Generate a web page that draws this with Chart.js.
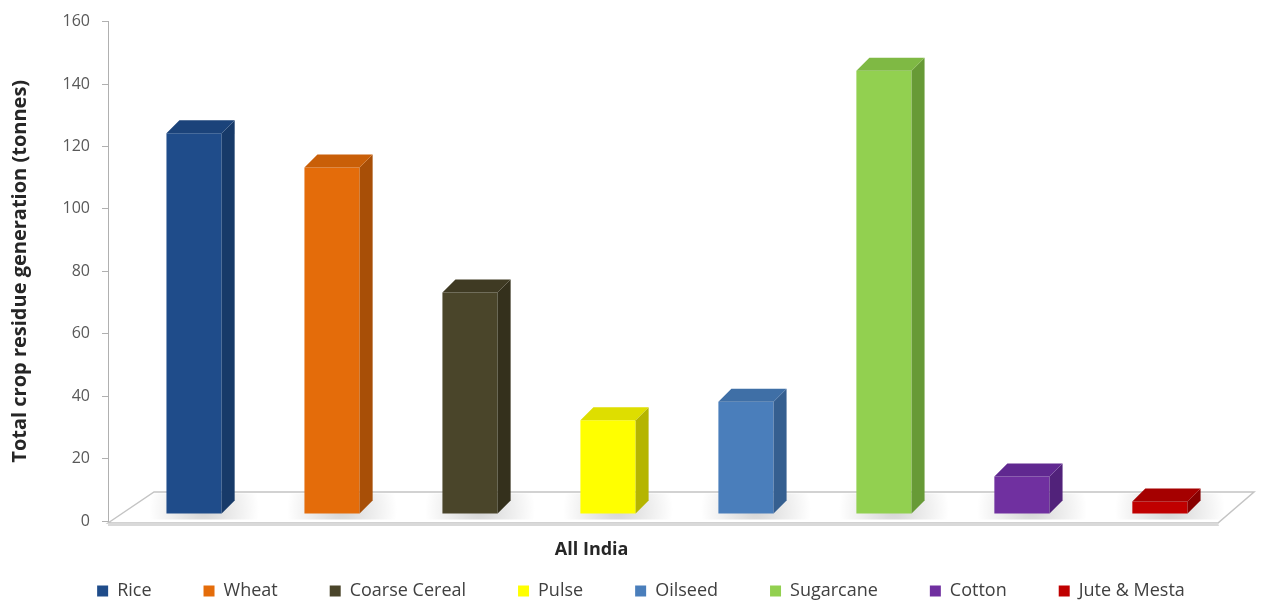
<!DOCTYPE html>
<html>
<head>
<meta charset="utf-8">
<script src="https://cdn.jsdelivr.net/npm/chart.js@4/dist/chart.umd.min.js"></script>
<style>
  html, body { margin: 0; padding: 0; background: #fff; }
  #wrap { width: 1264px; height: 603px; position: relative; }
</style>
</head>
<body>
<div id="wrap"><canvas id="myChart"></canvas></div>
<script>
// data
const categories = ['All India'];
const crops = ['Rice', 'Wheat', 'Coarse Cereal', 'Pulse', 'Oilseed', 'Sugarcane', 'Cotton', 'Jute & Mesta'];
const residue = [122, 111, 71, 30, 36, 142, 12, 4];
const yTicks = [0, 20, 40, 60, 80, 100, 120, 140, 160];

const frontColors = ['#1f4c8a', '#e46c0a', '#4a452a', '#ffff00', '#4a7ebb', '#92d050', '#7030a0', '#c00000'];
const sideColors  = ['#173a69', '#a84f07', '#34301c', '#b5b500', '#355f90', '#679a36', '#51227a', '#870000'];
const topColors   = ['#1b437a', '#c95f08', '#3f3a23', '#dede00', '#3f6fa6', '#7fb944', '#602890', '#a50000'];

const DEPTH = 13;     // bar depth in px
const LIFT = 7;       // bars stand a bit back on the floor

// fake 3d floor + bar sides
const threeD = {
  id: 'threeD',
  beforeDatasetsDraw(chart) {
    const { ctx, chartArea: a } = chart;
    const fl = a.left, fr = a.right - 28, fb = a.bottom + 2;
    const dx = 46, dy = 31;
    ctx.save();
    ctx.fillStyle = '#ffffff';
    ctx.strokeStyle = '#c4c4c4';
    ctx.lineWidth = 1.5;
    ctx.beginPath();
    ctx.moveTo(fl, fb);
    ctx.lineTo(fl + dx, fb - dy);
    ctx.lineTo(fr + dx - 10, fb - dy);
    ctx.lineTo(fr, fb);
    ctx.closePath();
    ctx.fill();
    ctx.stroke();
    // floor front edge thickness
    ctx.fillStyle = '#d9d9d9';
    ctx.beginPath();
    ctx.moveTo(fl, fb);
    ctx.lineTo(fr, fb);
    ctx.lineTo(fr + 1, fb + 3);
    ctx.lineTo(fl, fb + 3);
    ctx.closePath();
    ctx.fill();
    // soft shadows behind bars
    chart.data.datasets.forEach((ds, i) => {
      const bar = chart.getDatasetMeta(i).data[0];
      const g = ctx.createRadialGradient(bar.x + 10, bar.base - LIFT - 4, 2, bar.x + 10, bar.base - LIFT - 4, bar.width);
      g.addColorStop(0, 'rgba(0,0,0,0.16)');
      g.addColorStop(1, 'rgba(0,0,0,0)');
      ctx.fillStyle = g;
      ctx.fillRect(bar.x - bar.width, bar.base - LIFT - 20, bar.width * 2.2, 26);
    });
    ctx.restore();
    ctx.save();
    ctx.translate(0, -LIFT);
  },
  afterDatasetsDraw(chart) {
    const { ctx } = chart;
    chart.data.datasets.forEach((ds, i) => {
      const bar = chart.getDatasetMeta(i).data[0];
      const l = bar.x - bar.width / 2, r = bar.x + bar.width / 2;
      const t = bar.y, b = bar.base;
      ctx.fillStyle = sideColors[i];
      ctx.beginPath();
      ctx.moveTo(r, t);
      ctx.lineTo(r + DEPTH, t - DEPTH);
      ctx.lineTo(r + DEPTH, b - DEPTH);
      ctx.lineTo(r, b);
      ctx.closePath();
      ctx.fill();
      ctx.fillStyle = topColors[i];
      ctx.beginPath();
      ctx.moveTo(l, t);
      ctx.lineTo(l + DEPTH, t - DEPTH);
      ctx.lineTo(r + DEPTH, t - DEPTH);
      ctx.lineTo(r, t);
      ctx.closePath();
      ctx.fill();
    });
    ctx.restore();
  },
  // category title sits left of centre in the original
  afterDraw(chart) {
    const { ctx, chartArea: a } = chart;
    ctx.save();
    ctx.font = 'bold 18px "Open Sans"';
    ctx.fillStyle = '#262626';
    ctx.textAlign = 'center';
    ctx.textBaseline = 'middle';
    ctx.fillText(categories[0], a.left + (a.right - a.left) * 0.425, a.bottom + 29);
    ctx.restore();
  }
};

const datasets = crops.map((name, i) => ({
  label: name,
  data: [residue[i]],
  backgroundColor: frontColors[i],
  borderWidth: 0
}));

new Chart(document.getElementById('myChart'), {
  type: 'bar',
  data: { labels: categories, datasets: datasets },
  options: {
    responsive: true,
    maintainAspectRatio: false,
    animation: false,
    categoryPercentage: 0.97,
    barPercentage: 0.4,
    layout: { padding: { top: -2, right: 18, bottom: -7, left: 36 } },
    plugins: {
      tooltip: { enabled: false },
      legend: {
        position: 'bottom',
        labels: {
          font: { family: 'Open Sans', size: 18 },
          color: '#404040',
          boxWidth: 11,
          boxHeight: 11,
          padding: 52
        }
      }
    },
    scales: {
      x: {
        grid: { display: false },
        border: { display: false },
        ticks: { display: false },
        afterFit: scale => { scale.height = 9; }
      },
      y: {
        min: 0,
        max: 160,
        afterBuildTicks: scale => { scale.ticks = yTicks.map(v => ({ value: v })); },
        afterFit: scale => { scale.width = 72; },
        grid: { drawOnChartArea: false, drawTicks: true, tickLength: 6, color: '#b0b0b0' },
        border: { display: true, color: '#b0b0b0' },
        ticks: {
          font: { family: 'Open Sans', size: 16 },
          color: '#595959',
          padding: 12
        },
        title: {
          display: true,
          text: 'Total crop residue generation (tonnes)',
          font: { family: 'Open Sans', size: 20, weight: 'bold' },
          color: '#262626',
          padding: { top: -28, bottom: 0 }
        }
      }
    }
  },
  plugins: [threeD]
});
</script>
</body>
</html>
